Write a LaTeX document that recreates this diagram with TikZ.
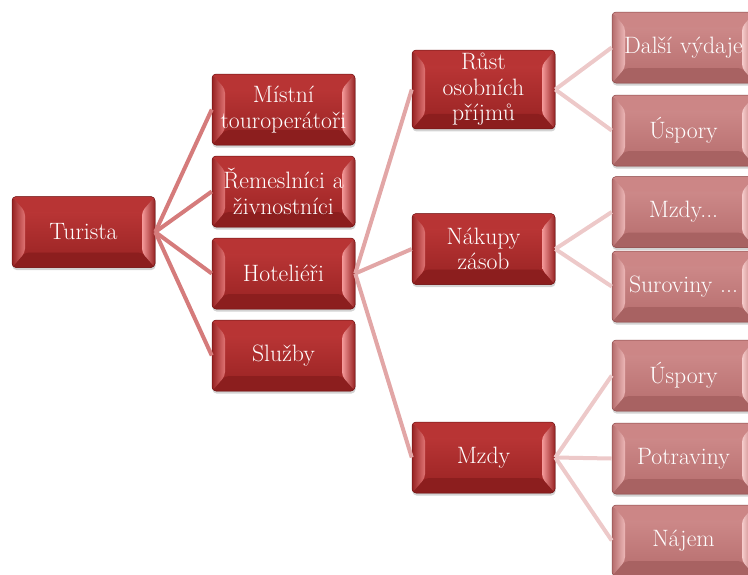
\documentclass[tikz,border=0pt]{standalone}
\usepackage{fontspec}
\usetikzlibrary{shadows}

\definecolor{dkTop}{HTML}{C23A3A}
\definecolor{dkBot}{HTML}{972222}
\definecolor{dkEdge}{HTML}{6E1616}
\definecolor{dkHigh}{HTML}{B83434}
\definecolor{dkLow}{HTML}{8C1E1E}
\definecolor{dkLeft}{HTML}{E07474}
\definecolor{dkRight}{HTML}{F59A9A}
\definecolor{plTop}{HTML}{D39090}
\definecolor{plBot}{HTML}{B56C6C}
\definecolor{plEdge}{HTML}{8A4A4A}
\definecolor{plHigh}{HTML}{CC8686}
\definecolor{plLow}{HTML}{A86262}
\definecolor{plLeft}{HTML}{EDB8B8}
\definecolor{plRight}{HTML}{F7CDCD}
\definecolor{twigA}{HTML}{D57B7B}
\definecolor{twigB}{HTML}{E2A6A6}
\definecolor{twigC}{HTML}{EDC9C9}

\tikzset{
  cell/.style={rectangle, rounded corners=4pt, minimum width=143pt, minimum height=71pt,
    inner xsep=4pt, text width=135pt, align=center, text=white,
    font=\fontsize{23.7}{25.5}\selectfont, draw=#1Edge, line width=0.5pt,
    top color=#1Top, bottom color=#1Bot,
    drop shadow={shadow xshift=0.5pt, shadow yshift=-2.5pt, opacity=0.35},
    path picture={
      \path (path picture bounding box.south west) coordinate (bsw)
            (path picture bounding box.north east) coordinate (bne);
      % bevel facets
      \fill[#1Low] (bsw) -- (bsw -| bne) -- ([shift={(-13pt,15pt)}]bsw -| bne)
        -- ([shift={(13pt,15pt)}]bsw) -- cycle;
      \fill[#1High] (bsw |- bne) -- (bne) -- ([shift={(-13pt,-15pt)}]bne)
        -- ([shift={(13pt,-15pt)}]bsw |- bne) -- cycle;
      \shade[left color=#1Bot, right color=#1Left] (bsw) -- ([shift={(13pt,15pt)}]bsw)
        -- ([shift={(13pt,-15pt)}]bsw |- bne) -- (bsw |- bne) -- cycle;
      \shade[left color=#1Right, right color=#1Bot] (bne) -- ([shift={(-13pt,-15pt)}]bne)
        -- ([shift={(-13pt,15pt)}]bsw -| bne) -- (bsw -| bne) -- cycle;
    }},
  darkcell/.style={cell=dk},
  palecell/.style={cell=pl},
  twig/.style={line width=4pt, draw=#1},
}

\begin{document}
\begin{tikzpicture}[x=1pt, y=1pt]
  \path[use as bounding box, clip] (0,0) rectangle (748,-574);

  \node[darkcell] (tur) at (83.5,-232) {Turista};

  \node[darkcell] (mis) at (283.5,-109.5) {Místní\\touroperátoři};
  \node[darkcell] (rem) at (283.5,-191.5) {Řemeslníci a\\živnostníci};
  \node[darkcell] (hot) at (283.5,-273.5) {Hoteliéři};
  \node[darkcell] (slu) at (283.5,-355.5) {Služby};

  \node[darkcell] (rus) at (483.5,-89.5) {Růst\\osobních\\příjmů};
  \node[darkcell] (nak) at (483.5,-249) {Nákupy\\zásob};
  \node[darkcell] (mzd) at (483.5,-457.5) {Mzdy};

  \node[palecell] (dal) at (683.5,-47.5) {Další výdaje};
  \node[palecell] (usa) at (683.5,-130.5) {Úspory};
  \node[palecell] (mzx) at (683.5,-212) {Mzdy...};
  \node[palecell] (sur) at (683.5,-286.5) {Suroviny ...};
  \node[palecell] (usb) at (683.5,-375.5) {Úspory};
  \node[palecell] (pot) at (683.5,-458.5) {Potraviny};
  \node[palecell] (naj) at (683.5,-540.5) {Nájem};

  % connectors
  \foreach \kid in {mis,rem,hot,slu}
    \draw[twig=twigA] (tur.east) -- (\kid.west);
  \foreach \kid in {rus,nak,mzd}
    \draw[twig=twigB] (hot.east) -- (\kid.west);
  \foreach \kid in {dal,usa}
    \draw[twig=twigC] (rus.east) -- (\kid.west);
  \foreach \kid in {mzx,sur}
    \draw[twig=twigC] (nak.east) -- (\kid.west);
  \foreach \kid in {usb,pot,naj}
    \draw[twig=twigC] (mzd.east) -- (\kid.west);
\end{tikzpicture}
\end{document}
